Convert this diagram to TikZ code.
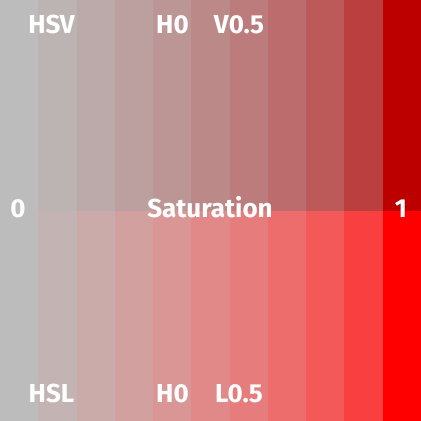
\documentclass[tikz,border=0pt]{standalone}
\usepackage{fontspec}
\setmainfont{Fira Sans}
\begin{document}
\begin{tikzpicture}[x=1pt,y=-1pt,
  lbl/.style={text=white,font=\bfseries\fontsize{26}{29}\selectfont,anchor=base,inner sep=0pt}]
\useasboundingbox (0,0) rectangle (421,421);
\def\topg{{188,179,170,160,149,137,124,108,89,63,0}}
\def\botr{{188,196,203,211,218,225,231,237,243,249,255}}
\foreach \k in {0,...,10}{
  \pgfmathtruncatemacro{\g}{\topg[\k]}
  \pgfmathtruncatemacro{\r}{\botr[\k]}
  \definecolor{tc}{RGB}{188,\g,\g}
  \definecolor{bc}{RGB}{\r,\g,\g}
  \fill[tc] ({\k*421/11},0) rectangle ({(\k+1)*421/11+0.3},210.5);
  \fill[bc] ({\k*421/11},210.5) rectangle ({(\k+1)*421/11+0.3},421);
}
\node[lbl] (hsv) at (51.5,33) {HSV};
\node[lbl] (h0a) at (172.5,33) {H0};
\node[lbl] (v05) at (239,33) {V0.5};
\node[lbl] (zero) at (18,217) {0};
\node[lbl] (sat) at (210,217) {Saturation};
\node[lbl] (one) at (401,217) {1};
\node[lbl] (hsl) at (51.5,402) {HSL};
\node[lbl] (h0b) at (172.5,402) {H0};
\node[lbl] (l05) at (239,402) {L0.5};
\end{tikzpicture}
\end{document}
